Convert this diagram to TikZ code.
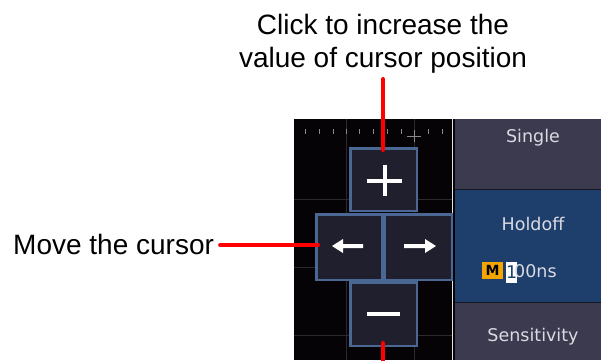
\documentclass[tikz,border=0pt]{standalone}
\usepackage{fontspec}
\setmainfont{Liberation Sans}
\newfontfamily\panelfont{DejaVu Sans}
\usetikzlibrary{calc}
\definecolor{screenbg}{HTML}{050306}
\definecolor{gridc}{HTML}{2A2A2E}
\definecolor{tickc}{HTML}{8A8A8A}
\definecolor{keyfill}{HTML}{1F1F2D}
\definecolor{keyborder}{HTML}{4B6794}
\definecolor{panelgray}{HTML}{3B3A4F}
\definecolor{panelblue}{HTML}{1E3F6C}
\definecolor{panelsep}{HTML}{15151F}
\definecolor{paneltext}{HTML}{DADAE2}
\definecolor{morange}{HTML}{F5A500}
\definecolor{pointer}{HTML}{FF0000}
\tikzset{
  lbl/.style={font=\fontsize{28}{33}\selectfont, text=black, inner sep=0pt, align=center},
  keybox/.style={draw=keyborder, line width=2.5pt, fill=keyfill, inner sep=0pt},
  glyph/.style={draw=white, line width=4pt},
  glyphfill/.style={fill=white},
  redline/.style={draw=pointer, line width=4pt, line cap=round},
  gridline/.style={draw=gridc, line width=1pt},
  tickmark/.style={draw=tickc, line width=1pt},
  ptxt/.style={font=\panelfont\fontsize{17.5}{20}\selectfont, text=paneltext, inner sep=0pt, anchor=base},
}
\begin{document}
\begin{tikzpicture}[x=1pt,y=-1pt]
\useasboundingbox (0,0) rectangle (601,360);
\fill[white] (0,0) rectangle (601,360);
% screen area
\fill[screenbg] (294,119) rectangle (455,360);
\foreach \yy in {199,267,335} \draw[gridline] (294,\yy) -- (452,\yy);
\foreach \xx in {346,414} \draw[gridline] (\xx,119) -- (\xx,360);
\foreach \xx in {305,319,333,346,359,373,387,401,428,442} \draw[tickmark] (\xx,129) -- (\xx,133.5);
\draw[tickmark] (407,136) -- (421,136);
\draw[tickmark] (414,130) -- (414,142);
\draw[draw=white!80!gray, line width=1.2pt] (452.5,119) -- (452.5,360);
% right menu panel
\fill[panelgray] (455,119) rectangle (601,189);
\fill[panelblue] (455,190) rectangle (601,302);
\fill[panelgray] (455,303) rectangle (601,360);
\draw[panelsep, line width=1pt] (455,189.5) -- (601,189.5);
\draw[panelsep, line width=1pt] (455,302.5) -- (601,302.5);
\node[ptxt] (single) at (533,142) {Single};
\node[ptxt] (holdoff) at (533,230) {Holdoff};
\node[ptxt] (sens) at (533,341) {Sensitivity};
\node[fill=morange, minimum width=21pt, minimum height=17pt, inner sep=0pt,
      font=\panelfont\bfseries\fontsize{14}{16}\selectfont, text=black] (mbox) at (492.5,270.5) {M};
\node[fill=white, minimum width=8pt, minimum height=21pt, inner sep=0pt,
      font=\panelfont\fontsize{17.5}{20}\selectfont, text=panelblue, anchor=west] (cur) at (506,272.5) {1};
\node[ptxt, anchor=base west] (val) at (514,277) {00ns};
% keys
\node[keybox, minimum width=66.5pt, minimum height=62.5pt] (plus) at (383.5,179.5) {};
\node[keybox, minimum width=65.5pt, minimum height=65.5pt] (left) at (349,247) {};
\node[keybox, minimum width=67.5pt, minimum height=65.5pt] (right) at (418,247) {};
\node[keybox, minimum width=66.5pt, minimum height=63.5pt] (minus) at (383.5,314) {};
% glyphs
\draw[glyph] ($(plus.center)+(-17,1)$) -- ($(plus.center)+(18,1)$);
\draw[glyph] ($(plus.center)+(1,-15)$) -- ($(plus.center)+(1,16)$);
\draw[glyph] ($(minus.center)+(-16.5,-0.5)$) -- ($(minus.center)+(16.5,-0.5)$);
\fill[glyphfill] ($(left.center)+(-17,-1)$) -- ($(left.center)+(-6,-8)$) -- ($(left.center)+(-6,-3)$)
  -- ($(left.center)+(14,-3)$) -- ($(left.center)+(14,1)$) -- ($(left.center)+(-6,1)$)
  -- ($(left.center)+(-6,6)$) -- cycle;
\fill[glyphfill] ($(right.center)+(18,-1)$) -- ($(right.center)+(7,-8)$) -- ($(right.center)+(7,-3)$)
  -- ($(right.center)+(-14,-3)$) -- ($(right.center)+(-14,1)$) -- ($(right.center)+(7,1)$)
  -- ($(right.center)+(7,6)$) -- cycle;
% labels
\node[lbl, anchor=base] (toplbl) at (383,67) {Click to increase the\\value of cursor position};
\node[lbl, anchor=base west] (movelbl) at (13,254) {Move the cursor};
\coordinate (topend) at (383,79);
\coordinate (botend) at (383,364);
% pointers
\draw[redline] (topend) -- ($(plus.north)+(-0.5,3)$);
\draw[redline] ($(movelbl.base east)+(6,-9)$) -- ($(left.west)+(3,-2)$);
\draw[redline] ($(minus.south)+(-0.5,-4)$) -- (botend);
\end{tikzpicture}
\end{document}
